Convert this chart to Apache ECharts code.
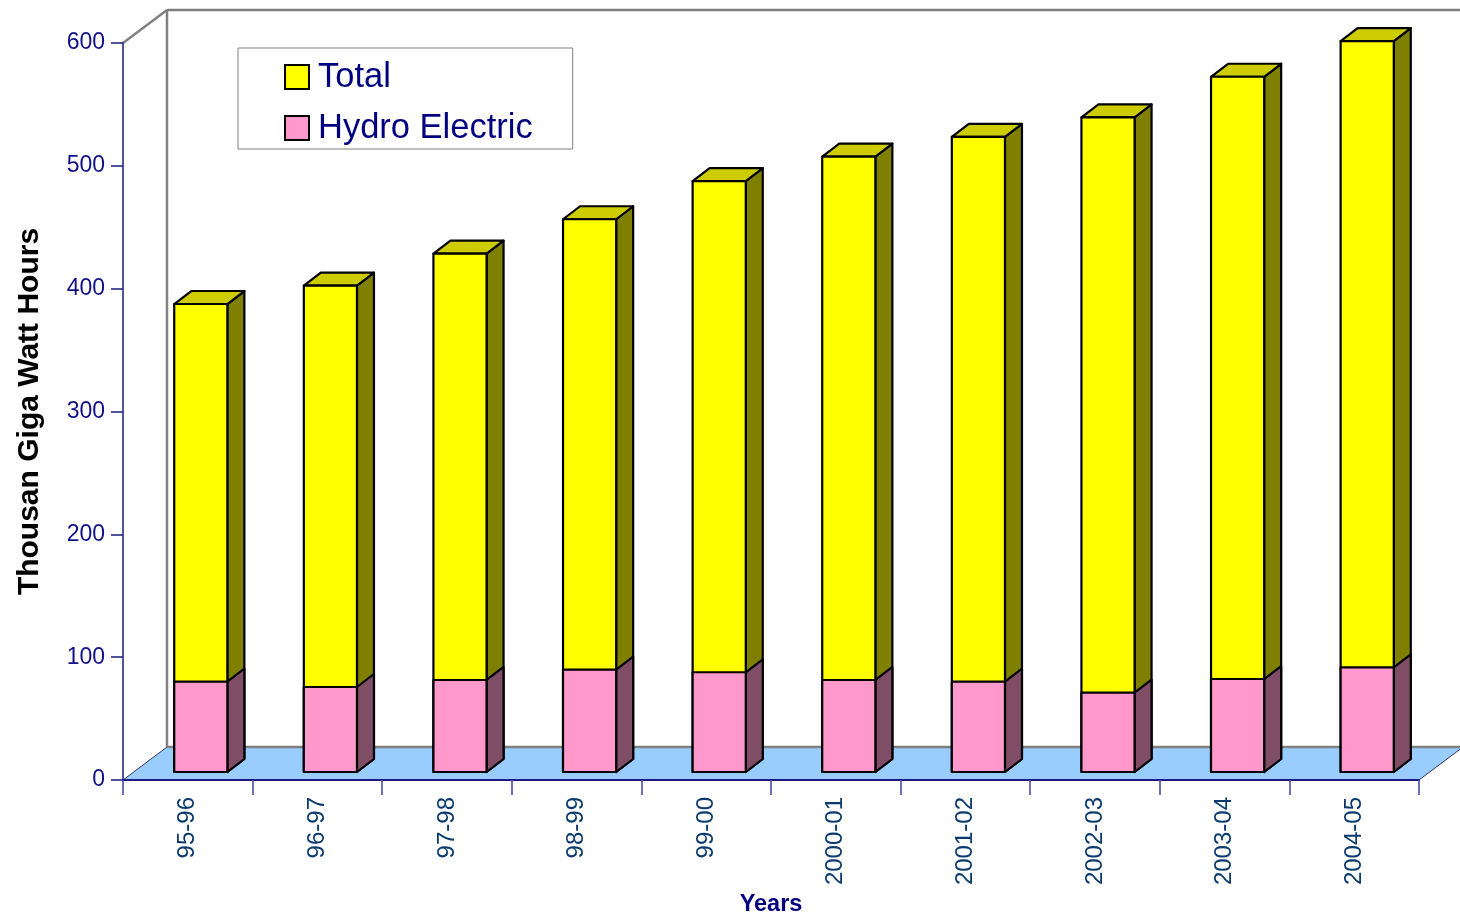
<!DOCTYPE html>
<html>
<head>
<meta charset="utf-8">
<title>Power generation</title>
<script src="https://cdn.jsdelivr.net/npm/echarts@6/dist/echarts.min.js"></script>
<style>
  html, body { margin: 0; padding: 0; background: #ffffff; }
  #chart { width: 1460px; height: 922px; }
</style>
</head>
<body>
<div id="chart"></div>
<script>
// Fiscal years
const categories = ['95-96', '96-97', '97-98', '98-99', '99-00', '2000-01', '2001-02', '2002-03', '2003-04', '2004-05'];
// Total generation (thousand GWh)
const totalValues = [381, 396, 422, 450, 481, 501, 517, 533, 566, 595];
// Hydro electric generation (thousand GWh)
const hydroValues = [73.5, 69.2, 74.9, 83.3, 81.2, 74.9, 73.5, 64.6, 75.7, 85.2];
// Value axis ticks
const yTicks = { min: 0, max: 600, interval: 100 };

// Pseudo-3D geometry (pixels)
const WALL_DX = 44, WALL_DY = -33;   // full depth of floor / walls
const BAR_DX = 13, BAR_DY = -8;      // offset of bar front faces from the front plane
const SIDE_DX = 17, SIDE_DY = -13;   // bar depth
const BAR_RATIO = 0.41;              // bar width as share of category width

const FONT = "'Liberation Sans', Arial, sans-serif";
const NAVY = '#000080';

function barRenderer(frontColor, sideColor, topColor, withTop) {
  return function (params, api) {
    const idx = api.value(0);
    const val = api.value(1);
    const base = api.coord([idx, 0]);
    const top = api.coord([idx, val]);
    const bw = api.size([1, 0])[0] * BAR_RATIO;
    const x0 = base[0] + BAR_DX - bw / 2;
    const x1 = x0 + bw;
    const yb = base[1] + BAR_DY;
    const yt = top[1] + BAR_DY;
    const edge = { stroke: '#000000', lineWidth: 2.2, lineJoin: 'round' };
    const children = [
      {
        type: 'polygon',
        shape: { points: [[x1, yt], [x1 + SIDE_DX, yt + SIDE_DY], [x1 + SIDE_DX, yb + SIDE_DY], [x1, yb]] },
        style: Object.assign({ fill: sideColor }, edge)
      }
    ];
    if (withTop) {
      children.push({
        type: 'polygon',
        shape: { points: [[x0, yt], [x0 + SIDE_DX, yt + SIDE_DY], [x1 + SIDE_DX, yt + SIDE_DY], [x1, yt]] },
        style: Object.assign({ fill: topColor }, edge)
      });
    }
    children.push({
      type: 'rect',
      shape: { x: x0, y: yt, width: bw, height: yb - yt },
      style: Object.assign({ fill: frontColor }, edge)
    });
    return { type: 'group', children: children };
  };
}

// Floor and back/side wall outlines
function wallRenderer(params, api) {
  const cs = params.coordSys;
  const L = cs.x, R = cs.x + cs.width, T = cs.y, B = cs.y + cs.height;
  const gray = { stroke: '#808080', lineWidth: 2.5 };
  return {
    type: 'group',
    children: [
      {
        type: 'polygon',
        shape: { points: [[L, B], [R, B], [R + WALL_DX, B + WALL_DY], [L + WALL_DX, B + WALL_DY]] },
        style: { fill: '#99CCFF', stroke: '#333366', lineWidth: 1 }
      },
      { type: 'line', shape: { x1: L + WALL_DX, y1: B + WALL_DY, x2: R + WALL_DX, y2: B + WALL_DY }, style: gray },
      { type: 'line', shape: { x1: L + WALL_DX, y1: T + WALL_DY, x2: L + WALL_DX, y2: B + WALL_DY }, style: gray },
      { type: 'line', shape: { x1: L + WALL_DX, y1: T + WALL_DY, x2: R + WALL_DX, y2: T + WALL_DY }, style: gray },
      { type: 'line', shape: { x1: L, y1: T, x2: L + WALL_DX, y2: T + WALL_DY }, style: gray }
    ]
  };
}

const chart = echarts.init(document.getElementById('chart'), null, { renderer: 'canvas' });

chart.setOption({
  backgroundColor: '#ffffff',
  animation: false,
  textStyle: { fontFamily: FONT },
  grid: { left: 123, right: 41, top: 43, bottom: 142, containLabel: false },
  legend: {
    orient: 'vertical',
    left: 238,
    top: 48,
    data: ['Total', 'Hydro Electric'],
    icon: 'rect',
    itemWidth: 24,
    itemHeight: 24,
    itemGap: 15,
    padding: [11, 40, 3, 46],
    backgroundColor: '#ffffff',
    borderColor: '#808080',
    borderWidth: 1,
    borderRadius: 0,
    itemStyle: { borderColor: '#000000', borderWidth: 2 },
    textStyle: { color: NAVY, fontSize: 34.5, fontFamily: FONT, lineHeight: 36, padding: [0, 0, 0, 4] }
  },
  xAxis: {
    type: 'category',
    data: categories,
    boundaryGap: true,
    name: 'Years',
    nameLocation: 'middle',
    nameGap: 113,
    nameTextStyle: { color: NAVY, fontSize: 23.5, fontWeight: 'bold', fontFamily: FONT },
    axisLine: { show: true, lineStyle: { color: '#1a1a80', width: 2 } },
    axisTick: { show: true, interval: 0, length: 15, lineStyle: { color: '#4040a8', width: 1.5 } },
    axisLabel: { interval: 0, rotate: 90, margin: 17, color: '#0a3a6e', fontSize: 24, fontFamily: FONT },
    splitLine: { show: false }
  },
  yAxis: {
    type: 'value',
    min: yTicks.min,
    max: yTicks.max,
    interval: yTicks.interval,
    name: 'Thousan Giga Watt Hours',
    nameLocation: 'middle',
    nameGap: 78,
    nameTextStyle: { color: '#000000', fontSize: 30, fontWeight: 'bold', fontFamily: FONT },
    axisLine: { show: true, lineStyle: { color: '#1a1a80', width: 1.5 } },
    axisTick: { show: true, length: 12, lineStyle: { color: '#1a1a80', width: 1.5 } },
    axisLabel: { margin: 18, color: '#10108a', fontSize: 23, fontFamily: FONT },
    splitLine: { show: false }
  },
  series: [
    {
      type: 'custom',
      name: 'floor',
      z: -1,
      silent: true,
      renderItem: wallRenderer,
      data: [[0, 0]],
      encode: { x: 0, y: 1 }
    },
    {
      type: 'custom',
      name: 'Total',
      itemStyle: { color: '#FFFF00', borderColor: '#000000', borderWidth: 2 },
      renderItem: barRenderer('#FFFF00', '#808000', '#CCCC00', true),
      data: totalValues.map((v, i) => [i, v]),
      encode: { x: 0, y: 1 }
    },
    {
      type: 'custom',
      name: 'Hydro Electric',
      itemStyle: { color: '#FF99CC', borderColor: '#000000', borderWidth: 2 },
      renderItem: barRenderer('#FF99CC', '#804D66', '#CC7AA3', false),
      data: hydroValues.map((v, i) => [i, v]),
      encode: { x: 0, y: 1 }
    }
  ]
});
</script>
</body>
</html>
